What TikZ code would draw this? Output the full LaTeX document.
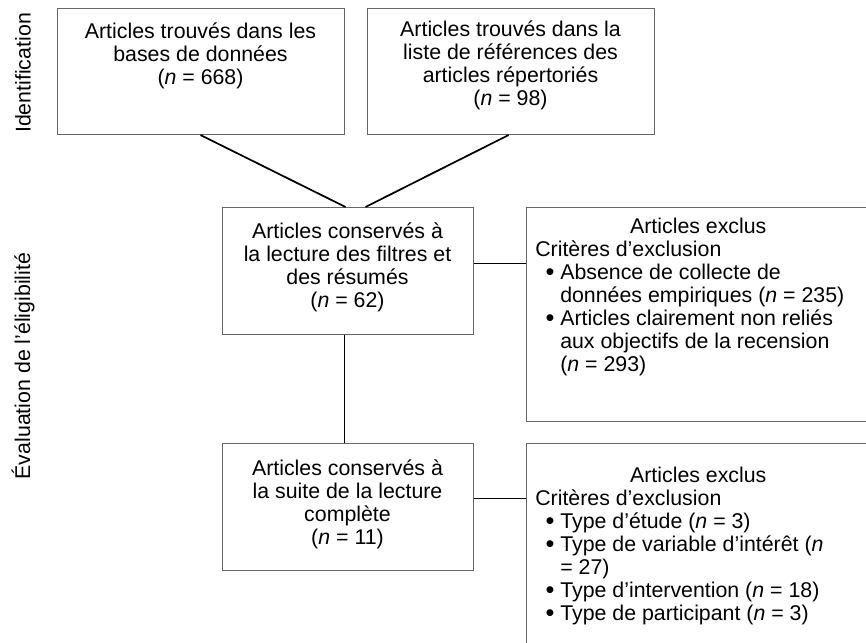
\documentclass[tikz,border=0pt]{standalone}
\usepackage{fontspec}
\setmainfont{Liberation Sans}
\usetikzlibrary{calc}
\newcommand{\bul}{\hangindent=18.75pt\hangafter=1\noindent\makebox[18.75pt][l]{\hspace{7.8pt}\smash{\raisebox{-1pt}{\fontsize{19}{19}\selectfont •}}}}
\begin{document}
\begin{tikzpicture}[x=0.75pt,y=-0.75pt,
  boxstyle/.style={draw=black!60,line width=0.8pt,inner sep=0pt,anchor=north west},
  txt/.style={font=\fontsize{16}{17.25}\selectfont,inner sep=0pt,align=center,anchor=north},
  listtxt/.style={font=\fontsize{16}{17.25}\selectfont,inner sep=0pt,anchor=north west},
  side/.style={font=\fontsize{16}{17.25}\selectfont,inner sep=0pt,rotate=90},
  link/.style={draw=black,line width=1.3pt}]
\useasboundingbox (0,0) rectangle (866,642);
\clip (0,0) rectangle (866,642);
% boxes
\node[boxstyle,minimum width=215.25pt,minimum height=94.5pt] (A) at (57,8) {};
\node[boxstyle,minimum width=215.25pt,minimum height=94.5pt] (B) at (367,8) {};
\node[boxstyle,minimum width=188.25pt,minimum height=95.25pt] (C) at (222,207) {};
\node[boxstyle,minimum width=258pt,minimum height=160.5pt] (D) at (526,207) {};
\node[boxstyle,minimum width=188.25pt,minimum height=95.25pt] (E) at (222,443) {};
\node[boxstyle,minimum width=258pt,minimum height=180pt] (F) at (526,443) {};
% texts
\node[txt] (tA) at (200.5,22.4) {Articles trouvés dans les\\bases de données\\(\textit{n} = 668)};
\node[txt] (tB) at (510.5,21) {Articles trouvés dans la\\liste de références des\\articles répertoriés\\(\textit{n} = 98)};
\node[txt] (tC) at (347.5,222.4) {Articles conservés à\\la lecture des filtres et\\des résumés\\(\textit{n} = 62)};
\node[txt] (tE) at (347.5,459.4) {Articles conservés à\\la suite de la lecture\\complète\\(\textit{n} = 11)};
\node[listtxt] (tD) at (535,217.5) {\parbox[t]{244.5pt}{\fontsize{16}{17.25}\selectfont\raggedright
{\centering Articles exclus\par}\noindent Critères d’exclusion\par
\bul Absence de collecte de\newline données empiriques (\textit{n} = 235)\par
\bul Articles clairement non reliés\newline aux objectifs de la recension\newline (\textit{n} = 293)\par}};
\node[listtxt] (tF) at (535,466.5) {\parbox[t]{244.5pt}{\fontsize{16}{17.25}\selectfont\raggedright
{\centering Articles exclus\par}\noindent Critères d’exclusion\par
\bul Type d’étude (\textit{n} = 3)\par
\bul Type de variable d’intérêt (\textit{n}\newline = 27)\par
\bul Type d’intervention (\textit{n} = 18)\par
\bul Type de participant (\textit{n} = 3)\par}};
% side labels
\node[side] (s1) at (23,73) {Identification};
\node[side] (s2) at (23,366) {Évaluation de l’éligibilité};
% connectors
\draw[link] ($(A.south)+(-0.5,0)$) -- ($(C.north)+(-2.5,0)$);
\draw[link] ($(B.south)+(-2.5,0)$) -- ($(C.north)+(17.5,0)$);
\draw[link] ($(C.south)+(-3.5,0)$) -- ($(E.north)+(-3.5,0)$);
\draw[link] ($(C.east)+(0,-7.5)$) -- ($(D.west |- C.east)+(0,-7.5)$);
\draw[link] ($(E.east)+(0,-8.5)$) -- ($(F.west |- E.east)+(0,-8.5)$);
\end{tikzpicture}
\end{document}
